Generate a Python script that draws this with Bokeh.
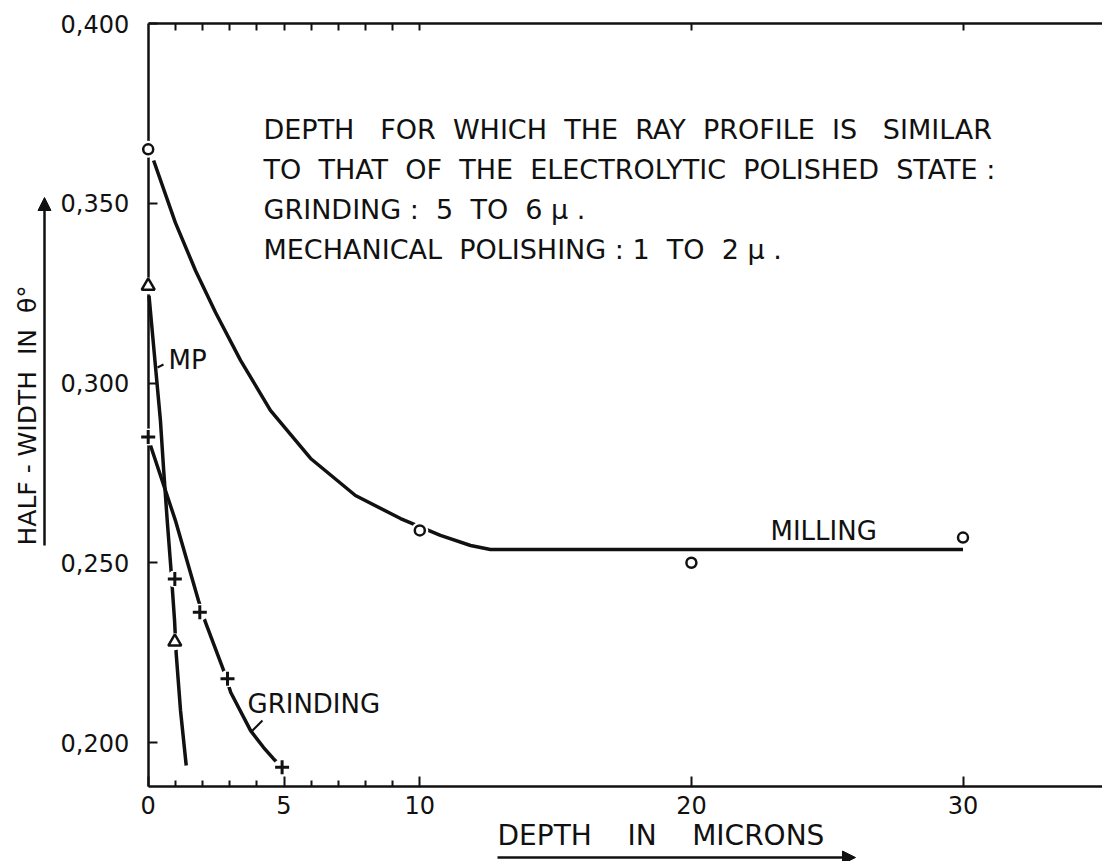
import math
from bokeh.plotting import figure
from bokeh.models import FixedTicker, LinearAxis, Label, Arrow, NormalHead, Range1d
from bokeh.embed import file_html
from bokeh.resources import INLINE

# ---------------- data ----------------
milling_x = [0, 10, 20, 30]
milling_y = [0.365, 0.259, 0.250, 0.257]
milling_curve_x = [0.2, 1.0, 1.74, 2.48, 3.4, 4.5, 5.98, 7.63, 9.29, 10.76, 11.87, 12.6, 30.0]
milling_curve_y = [0.3619, 0.3446, 0.3313, 0.3196, 0.3063, 0.2924, 0.2790, 0.2687, 0.2623,
                   0.2576, 0.2548, 0.2537, 0.2537]

mp_x = [0, 0.98]
mp_y = [0.327, 0.228]
mp_curve_x = [0.03, 0.27, 0.45, 0.57, 0.70, 0.84, 0.97, 1.03, 1.19, 1.40]
mp_curve_y = [0.3243, 0.3044, 0.2896, 0.2757, 0.2618, 0.2480, 0.2340, 0.2248, 0.2089, 0.1936]

grinding_x = [0, 0.98, 1.9, 2.92, 4.93]
grinding_y = [0.285, 0.2455, 0.2362, 0.2177, 0.1931]
grinding_curve_x = [0.085, 1.0, 1.85, 2.11, 2.78, 3.04, 3.77, 4.25, 4.61, 4.94]
grinding_curve_y = [0.2826, 0.2618, 0.2395, 0.2334, 0.2200, 0.2139, 0.2033, 0.1986, 0.1955, 0.1930]

x_major_ticks = [0, 5, 10, 20, 30]
x_minor_ticks = [1, 2, 3, 4, 6, 7, 8, 9]
top_ticks = [1, 2, 3, 4, 5, 6, 7, 8, 9, 10, 20, 30]
y_ticks = [0.2, 0.25, 0.3, 0.35, 0.4]
y_tick_labels = ["0,200", "0,250", "0,300", "0,350", "0,400"]

S2 = "\u00a0\u00a0"
S3 = "\u00a0\u00a0\u00a0"
S4 = "\u00a0\u00a0\u00a0\u00a0"
note_lines = [
    "DEPTH" + S3 + "FOR" + S2 + "WHICH" + S2 + "THE" + S2 + "RAY" + S2 + "PROFILE" + S2 + "IS" + S3 + "SIMILAR",
    "TO" + S2 + "THAT" + S2 + "OF" + S2 + "THE" + S2 + "ELECTROLYTIC" + S2 + "POLISHED" + S2 + "STATE :",
    "GRINDING :" + S2 + "5" + S2 + "TO" + S2 + "6 \u03bc .",
    "MECHANICAL" + S2 + "POLISHING : 1" + S2 + "TO" + S2 + "2 \u03bc .",
]

FONT = "DejaVu Sans"
INK = "#111111"

# page geometry: the frame covers the whole canvas; axes are placed at fixed data positions
W, H = 1102, 861
PXU_X = 27.16          # pixels per micron
PXU_Y = 3595.0         # pixels per unit of half-width
X_START = -147.7 / PXU_X
Y_END = 0.400 + 23 / PXU_Y
X_END = X_START + W / PXU_X
Y_START = Y_END - H / PXU_Y
Y_AXIS_BOTTOM = Y_END - 786 / PXU_Y


def dx(px):
    return X_START + px / PXU_X


def dy(py):
    return Y_END - py / PXU_Y


p = figure(width=W, height=H,
           x_range=Range1d(X_START, X_END), y_range=Range1d(Y_START, Y_END),
           output_backend="svg", toolbar_location=None,
           x_axis_location=None, y_axis_location=None,
           min_border_left=0, min_border_right=0, min_border_top=0, min_border_bottom=0)
p.outline_line_color = None
p.grid.visible = False
p.background_fill_color = "white"
p.border_fill_color = "white"

# ---------------- axes ----------------
left = LinearAxis(ticker=FixedTicker(ticks=y_ticks),
                  major_label_overrides={t: l for t, l in zip(y_ticks, y_tick_labels)},
                  fixed_location=0, bounds=(Y_AXIS_BOTTOM, 0.400))
left.major_tick_in = 9
left.major_tick_out = 0
left.minor_tick_line_color = None
left.major_label_standoff = 19
left.major_label_text_font = FONT
left.major_label_text_font_size = "24px"
left.major_label_text_color = INK
left.axis_line_width = 2.5
left.major_tick_line_width = 2
left.axis_line_color = INK
left.major_tick_line_color = INK
p.add_layout(left, "left")

bottom = LinearAxis(ticker=FixedTicker(ticks=x_major_ticks, minor_ticks=x_minor_ticks),
                    fixed_location=Y_AXIS_BOTTOM, bounds=(0, 40))
bottom.major_tick_in = 10
bottom.major_tick_out = 0
bottom.minor_tick_in = 6
bottom.minor_tick_out = 0
bottom.major_label_standoff = 9
bottom.major_label_text_font = FONT
bottom.major_label_text_font_size = "24px"
bottom.major_label_text_color = INK
bottom.axis_line_width = 2.5
bottom.major_tick_line_width = 2
bottom.minor_tick_line_width = 2
bottom.axis_line_color = INK
bottom.major_tick_line_color = INK
bottom.minor_tick_line_color = INK
p.add_layout(bottom, "below")

top = LinearAxis(ticker=FixedTicker(ticks=[], minor_ticks=top_ticks),
                 fixed_location=0.400, bounds=(0, 40))
top.minor_tick_in = 7
top.minor_tick_out = 0
top.major_tick_line_color = None
top.axis_line_width = 2.5
top.minor_tick_line_width = 2
top.axis_line_color = INK
top.minor_tick_line_color = INK
p.add_layout(top, "above")

# ---------------- curves ----------------
p.line(milling_curve_x, milling_curve_y, line_width=3.5, line_color=INK)
p.line(mp_curve_x, mp_curve_y, line_width=3.5, line_color=INK)
p.line(grinding_curve_x, grinding_curve_y, line_width=3.5, line_color=INK)

# white gaps around the symbols, then the symbols
all_x = milling_x + mp_x + grinding_x
all_y = milling_y + mp_y + grinding_y
bg = p.scatter(all_x, all_y, marker="circle", size=17, fill_color="white", line_color=None)
bg.level = "overlay"
r1 = p.scatter(milling_x, milling_y, marker="circle", size=10, fill_color="white",
               line_color=INK, line_width=2.5)
r2 = p.scatter(mp_x, mp_y, marker="triangle", size=13, fill_color="white",
               line_color=INK, line_width=2.5)
r3 = p.scatter(grinding_x, grinding_y, marker="cross", size=14, line_color=INK, line_width=3)
for r in (r1, r2, r3):
    r.level = "overlay"


# ---------------- texts ----------------
def lab(px, py, text, size="26px", **kw):
    p.add_layout(Label(x=dx(px), y=dy(py), text=text, text_font=FONT, text_font_size=size,
                       text_color=INK, text_baseline="middle", **kw))


for t, py in zip(note_lines, [129, 169, 209, 249]):
    lab(263, py, t, size="27px")

lab(168, 359, "MP", size="26px")
lab(247, 703, "GRINDING", size="26px")
lab(770, 530, "MILLING", size="26px")
lab(497, 835, "DEPTH" + S4 + "IN" + S4 + "MICRONS", size="28px")
lab(27, 545, "HALF - WIDTH" + S2 + "IN" + S2 + "\u03b8\u00b0", size="25px", angle=math.pi / 2,
    text_align="left")


def seg(x0, y0, x1, y1, width=2, head=None):
    p.add_layout(Arrow(end=head, x_start=dx(x0), y_start=dy(y0), x_end=dx(x1), y_end=dy(y1),
                       line_width=width, line_color=INK))


# leader lines
seg(157, 367, 163, 364)
seg(251, 731, 262, 720)

# axis arrows
seg(497, 857, 855, 857, 2.5, NormalHead(size=13, fill_color=INK, line_color=INK))
seg(44, 545, 44, 197, 2.5, NormalHead(size=13, fill_color=INK, line_color=INK))

open("out.html", "w").write(file_html(p, INLINE))
